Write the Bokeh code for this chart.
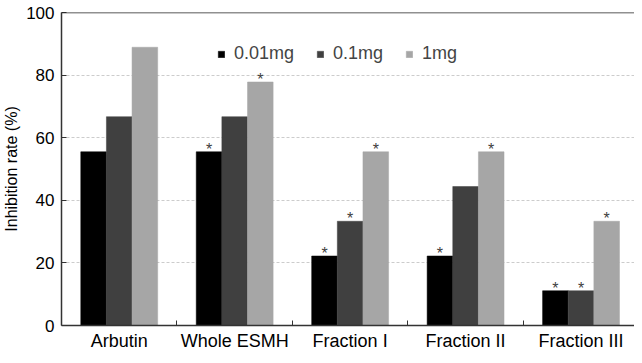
from bokeh.plotting import figure
from bokeh.models import Range1d, FixedTicker, Legend, LegendItem, Span, ColumnDataSource
from bokeh.core.properties import value
from bokeh.embed import file_html
from bokeh.resources import INLINE

categories = ["Arbutin", "Whole ESMH", "Fraction I", "Fraction II", "Fraction III"]
series_names = ["0.01mg", "0.1mg", "1mg"]
v_001 = [55.5, 55.5, 22.2, 22.2, 11.1]
v_01 = [66.7, 66.7, 33.3, 44.4, 11.1]
v_1 = [88.9, 77.8, 55.5, 55.5, 33.3]
star_001 = [False, True, True, True, True]
star_01 = [False, False, True, False, True]
star_1 = [False, True, True, True, True]
y_ticks = [0, 20, 40, 60, 80, 100]

colors = ["#000000", "#404040", "#a6a6a6"]
FONT = "Liberation Sans"

p = figure(width=634, height=355, output_backend="svg", toolbar_location=None,
           x_range=Range1d(0, 4.963), y_range=Range1d(0, 100),
           min_border_left=57, min_border_top=12, min_border_right=0, min_border_bottom=30)
p.outline_line_color = None
p.background_fill_color = "white"
p.border_fill_color = "white"

bw = 0.222
offsets = [-bw, 0.0, bw]
series = [v_001, v_01, v_1]
stars = [star_001, star_01, star_1]
renderers = []
for k in range(3):
    xs = [i + 0.5 + offsets[k] for i in range(len(categories))]
    src = ColumnDataSource(dict(x=xs, top=series[k]))
    r = p.vbar(x="x", top="top", width=bw, source=src, fill_color=colors[k],
               line_color=colors[k], line_width=0.5)
    renderers.append(r)
    sx = [x for x, s in zip(xs, stars[k]) if s]
    sy = [t for t, s in zip(series[k], stars[k]) if s]
    p.text(x=sx, y=sy, text=["*"] * len(sx), text_align="center", text_baseline="bottom",
           y_offset=6, text_font=value(FONT), text_font_size="16px", text_color="#404040")

# axes
xa = p.xaxis[0]
xa.ticker = FixedTicker(ticks=[i + 0.5 for i in range(len(categories))],
                        minor_ticks=[1, 2, 3, 4])
xa.major_label_overrides = {i + 0.5: c for i, c in enumerate(categories)}
xa.major_tick_in = 0
xa.major_tick_out = 0
xa.minor_tick_in = 5
xa.minor_tick_out = 0
xa.minor_tick_line_color = "#333333"
xa.axis_line_color = "#333333"
xa.axis_line_width = 1.5
xa.major_label_text_font = FONT
xa.major_label_text_font_size = "18px"
xa.major_label_text_color = "black"
xa.major_label_standoff = 5

ya = p.yaxis[0]
ya.ticker = FixedTicker(ticks=y_ticks)
ya.major_tick_in = 5
ya.major_tick_out = 0
ya.minor_tick_line_color = None
ya.major_tick_line_color = "#333333"
ya.axis_line_color = "#333333"
ya.axis_line_width = 1.5
ya.major_label_text_font = FONT
ya.major_label_text_font_size = "17px"
ya.major_label_text_color = "black"
ya.major_label_standoff = 7
ya.axis_label = "Inhibition rate (%)"
ya.axis_label_text_font = FONT
ya.axis_label_text_font_size = "16px"
ya.axis_label_text_font_style = "normal"
ya.axis_label_text_color = "black"
ya.axis_label_standoff = 3

p.xgrid.grid_line_color = None
p.ygrid.ticker = FixedTicker(ticks=[20, 40, 60, 80])
p.ygrid.grid_line_color = "#cccccc"
p.ygrid.grid_line_dash = "3 2"
p.ygrid.grid_line_width = 1

top = Span(location=100, dimension="width", line_color="#222222", line_width=1.5)
p.add_layout(top)

legend = Legend(items=[LegendItem(label=n, renderers=[r]) for n, r in zip(series_names, renderers)],
                orientation="horizontal", location=(156, 261), padding=0, margin=0,
                spacing=22, glyph_width=8, glyph_height=8, label_standoff=9,
                label_text_font=FONT, label_text_font_size="18px",
                border_line_color=None, background_fill_alpha=0)
p.add_layout(legend)

open("out.html", "w").write(file_html(p, INLINE))
